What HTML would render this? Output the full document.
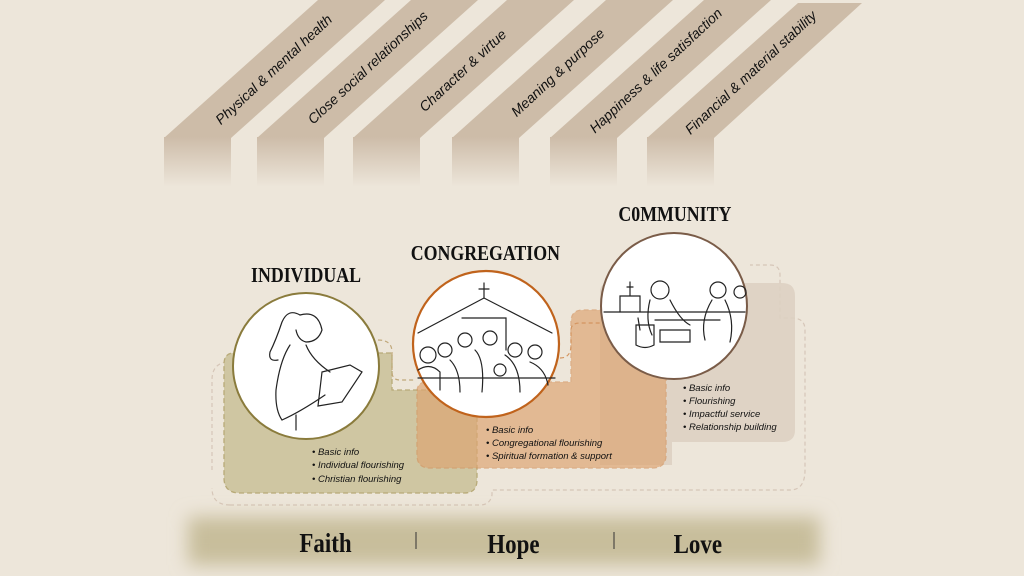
<!DOCTYPE html>
<html><head><meta charset="utf-8"><style>
html,body{margin:0;padding:0;width:1024px;height:576px;overflow:hidden;background:#ede6da;}
svg{display:block}
</style></head><body>
<svg width="1024" height="576" viewBox="0 0 1024 576" xmlns="http://www.w3.org/2000/svg">
<defs>
<linearGradient id="fade" x1="0" y1="0" x2="0" y2="1">
<stop offset="0" stop-color="#cdbca8"/><stop offset="1" stop-color="#ede6da"/>
</linearGradient>
<filter id="bl" x="-20%" y="-50%" width="140%" height="200%"><feGaussianBlur stdDeviation="9"/></filter>
</defs>
<rect width="1024" height="576" fill="#ede6da"/>
<g fill="#cdbca8">
<polygon points="164,138 318,0 385,0 231,138"/>
<polygon points="257,138 411,0 478,0 324,138"/>
<polygon points="353,138 507,0 574,0 420,138"/>
<polygon points="452,138 606,0 673,0 519,138"/>
<polygon points="550,138 704,0 771,0 617,138"/>
<polygon points="647,138 798,3 862,3 714,138"/>
</g>
<g fill="url(#fade)">
<rect x="164" y="137" width="67" height="50"/>
<rect x="257" y="137" width="67" height="50"/>
<rect x="353" y="137" width="67" height="50"/>
<rect x="452" y="137" width="67" height="50"/>
<rect x="550" y="137" width="67" height="50"/>
<rect x="647" y="137" width="67" height="50"/>
</g>
<g font-family="Liberation Sans, sans-serif" font-style="italic" font-size="14" fill="#111" text-anchor="middle">
<text transform="translate(277,73) rotate(-43)">Physical &amp; mental health</text>
<text transform="translate(371,71) rotate(-43)">Close social relationships</text>
<text transform="translate(466,74) rotate(-43)">Character &amp; virtue</text>
<text transform="translate(561,76) rotate(-43)">Meaning &amp; purpose</text>
<text transform="translate(659,74) rotate(-43)">Happiness &amp; life satisfaction</text>
<text transform="translate(754,76) rotate(-43)">Financial &amp; material stability</text>
</g>
<g fill="none" stroke="#d6c6b8" stroke-width="1.2" stroke-dasharray="4 3">
<path d="M212,470 V380 Q212,362 230,362"/>
<path d="M230,505 Q212,505 212,488"/>
<path d="M230,505 H480 Q490,505 492,495 V490 H790 Q805,490 805,470 V330 Q805,318 792,318 H780 V275 Q780,265 770,265 H750"/>
</g>
<path d="M600,292 Q600,283 610,283 H782 Q795,283 795,296 V430 Q795,442 782,442 H672 V465 H600 Z" fill="#ddd0c2" opacity="0.9"/>
<path d="M234,353 H392 V390 H470 Q477,390 477,398 V480 Q477,493 464,493 H240 Q224,493 224,478 V364 Q224,353 234,353 Z" fill="#cfc6a2" stroke="#b8aa78" stroke-width="1.3" stroke-dasharray="5 3"/>
<path d="M427,382 H571 V322 Q571,310 583,310 H656 Q666,310 666,322 V455 Q666,468 652,468 H430 Q417,468 417,455 V392 Q417,382 427,382 Z" fill="#dda572" opacity="0.68" stroke="#d49560" stroke-width="1.3" stroke-dasharray="5 3"/>
<g fill="none" stroke="#c0a87a" stroke-width="1.2" stroke-dasharray="4 3">
<path d="M378,340 Q392,340 392,352 V372 Q392,380 400,380 H414"/>
</g>
<g fill="none" stroke="#d49560" stroke-width="1.2" stroke-dasharray="4 3">
<path d="M560,358 Q571,358 571,345 V330 Q571,323 580,323 H600"/>
</g>
<g font-family="Liberation Serif, serif" font-weight="bold" font-size="21" fill="#111" text-anchor="middle" transform="scale(0.85,1)">
<text x="360" y="282">INDIVIDUAL</text>
<text x="571" y="260">CONGREGATION</text>
<text x="794" y="221">C0MMUNITY</text>
</g>
<circle cx="306" cy="366" r="73" fill="#fff" stroke="#8a7b3c" stroke-width="2"/>
<circle cx="486" cy="344" r="73" fill="#fff" stroke="#c0631c" stroke-width="2.2"/>
<circle cx="674" cy="306" r="73" fill="#fff" stroke="#7a5c48" stroke-width="2"/>
<g fill="none" stroke="#222" stroke-width="1.2" stroke-linecap="round">
<path d="M300,315 Q288,308 282,322 Q276,340 270,352 Q268,362 278,360"/>
<path d="M300,315 Q318,310 322,330 Q318,342 306,342 Q298,340 296,330"/>
<path d="M290,345 Q280,360 276,390 Q275,410 282,420"/>
<path d="M306,345 Q312,360 330,372"/>
<path d="M322,372 L350,365 L362,372 L342,402 L318,406 Z"/>
<path d="M282,420 Q300,412 325,395"/>
<path d="M296,430 V415"/>
<path d="M484,283 V298 M479,289 H489"/>
<path d="M418,333 L484,298 L552,333"/>
<path d="M462,318 H506 V350"/>
<circle cx="428" cy="355" r="8"/><circle cx="445" cy="350" r="7"/><circle cx="465" cy="340" r="7"/>
<circle cx="490" cy="338" r="7"/><circle cx="515" cy="350" r="7"/><circle cx="535" cy="352" r="7"/>
<circle cx="500" cy="370" r="6"/>
<path d="M418,370 Q430,362 440,372 V390 M450,360 Q460,370 460,392 M475,350 Q485,360 482,392 M505,355 Q520,365 520,392 M530,362 Q545,368 548,385"/>
<path d="M418,378 H555"/>
<path d="M604,312 H745"/>
<path d="M620,312 V296 H640 V312 M630,296 V282 M627,287 H633"/>
<circle cx="660" cy="290" r="9"/>
<path d="M650,300 Q645,320 652,335 M670,300 Q680,320 690,325"/>
<circle cx="718" cy="290" r="8"/>
<path d="M712,300 Q700,320 705,340 M725,300 Q735,320 730,342"/>
<circle cx="740" cy="292" r="6"/>
<path d="M636,325 V345 Q645,350 654,345 V325 Z M640,330 L638,318"/>
<path d="M660,330 H690 V342 H660 Z"/>
<path d="M655,320 H720"/>
</g>
<g font-family="Liberation Sans, sans-serif" font-style="italic" font-size="9.5" fill="#111">
<text x="312" y="455">• Basic info</text>
<text x="312" y="468">• Individual flourishing</text>
<text x="312" y="482">• Christian flourishing</text>
<text x="486" y="433">• Basic info</text>
<text x="486" y="446">• Congregational flourishing</text>
<text x="486" y="459">• Spiritual formation &amp; support</text>
<text x="683" y="391">• Basic info</text>
<text x="683" y="404">• Flourishing</text>
<text x="683" y="417">• Impactful service</text>
<text x="683" y="430">• Relationship building</text>
</g>
<rect x="188" y="517" width="632" height="48" fill="#c8be9b" filter="url(#bl)"/>
<g font-family="Liberation Serif, serif" font-weight="bold" font-size="27" fill="#111" text-anchor="middle" transform="scale(0.85,1)">
<text x="383" y="552">Faith</text>
<text x="604" y="553">Hope</text>
<text x="821" y="553">Love</text>
</g>
<path d="M416,532 V549 M614,532 V549" stroke="#333" stroke-width="1"/>
</svg>
</body></html>
